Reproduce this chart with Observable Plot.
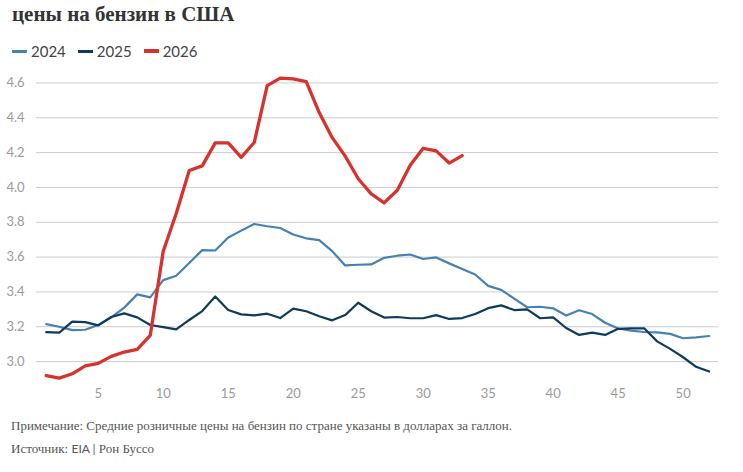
<!DOCTYPE html>
<html>
<head>
<meta charset="utf-8">
<script src="https://cdn.jsdelivr.net/npm/d3@7"></script>
<script src="https://cdn.jsdelivr.net/npm/@observablehq/plot@0.6"></script>
<style>
  html, body { margin: 0; padding: 0; background: #fff; }
  body { width: 743px; height: 472px; position: relative; overflow: hidden; }
  #title { position: absolute; left: 12px; top: 2px; font-family: "Liberation Serif", "DejaVu Serif", serif; font-weight: bold; font-size: 21px; color: #333; }
  #legend { position: absolute; left: 12px; top: 42px; font-family: Lato, "Open Sans", sans-serif; font-size: 15px; color: #444; display: flex; align-items: center; }
  .item { display: flex; align-items: center; margin-right: 12px; }
  .sw { display: inline-block; width: 15px; margin-right: 4px; }
  #chart { position: absolute; left: 0; top: 66px; }
  #note { position: absolute; left: 11px; top: 418px; font-family: "Liberation Serif", serif; font-size: 13px; color: #555; }
  #src { position: absolute; left: 11px; top: 441px; font-family: "Liberation Serif", serif; font-size: 13px; color: #555; }
  #src .s { font-family: Lato, sans-serif; font-size: 12px; }
</style>
</head>
<body>
<div id="title">цены на бензин в США</div>
<div id="legend"></div>
<div id="chart"></div>
<div id="note">Примечание: Средние розничные цены на бензин по стране указаны в долларах за галлон.</div>
<div id="src">Источник: <span class="s">EIA |</span> Рон Буссо</div>
<script>
const weeks = [1,2,3,4,5,6,7,8,9,10,11,12,13,14,15,16,17,18,19,20,21,22,23,24,25,26,27,28,29,30,31,32,33,34,35,36,37,38,39,40,41,42,43,44,45,46,47,48,49,50,51,52];
const series = ["2024", "2025", "2026"];
const colors = ["#4582b3", "#0e3a5e", "#d6322e"];
const gas2024 = [3.215,3.20,3.181,3.183,3.21,3.254,3.31,3.386,3.369,3.468,3.493,3.566,3.64,3.638,3.713,3.752,3.79,3.777,3.767,3.73,3.708,3.697,3.634,3.552,3.556,3.558,3.596,3.608,3.615,3.589,3.598,3.564,3.532,3.50,3.435,3.412,3.362,3.312,3.315,3.306,3.265,3.295,3.273,3.223,3.19,3.178,3.17,3.168,3.159,3.134,3.139,3.147];
const gas2025 = [3.169,3.166,3.23,3.227,3.208,3.256,3.277,3.254,3.21,3.198,3.185,3.239,3.29,3.374,3.296,3.271,3.265,3.275,3.25,3.304,3.289,3.26,3.237,3.267,3.338,3.289,3.253,3.256,3.249,3.249,3.267,3.245,3.25,3.273,3.307,3.323,3.296,3.30,3.249,3.254,3.193,3.153,3.166,3.153,3.188,3.191,3.191,3.116,3.073,3.025,2.97,2.943];
const gas2026 = [2.92,2.905,2.93,2.975,2.99,3.03,3.055,3.07,3.15,3.634,3.85,4.097,4.124,4.256,4.256,4.173,4.258,4.585,4.628,4.623,4.607,4.43,4.286,4.18,4.05,3.963,3.912,3.983,4.128,4.225,4.21,4.14,4.183];
const yTicks = [3.0,3.2,3.4,3.6,3.8,4.0,4.2,4.4,4.6];
const xTicks = [5,10,15,20,25,30,35,40,45,50];

const valuesBySeries = [gas2024, gas2025, gas2026];
const rows = series.map((s, i) => valuesBySeries[i].map((v, j) => ({week: weeks[j], price: v, year: s})));

// legend
const leg = document.getElementById("legend");
series.forEach((s, i) => {
  const it = document.createElement("span");
  it.className = "item";
  const sw = document.createElement("span");
  sw.className = "sw";
  sw.style.borderTop = (i === 2 ? 4 : 3) + "px solid " + colors[i];
  it.appendChild(sw);
  it.appendChild(document.createTextNode(s));
  leg.appendChild(it);
});

const chart = Plot.plot({
  width: 743,
  height: 338,
  marginLeft: 36,
  marginRight: 25,
  marginTop: 6,
  marginBottom: 22,
  style: {fontFamily: "Lato, 'Open Sans', sans-serif", fontSize: "13px", color: "#9a9a9a", background: "#fff"},
  x: {domain: [0.25, 52.72]},
  y: {domain: [2.88, 4.66]},
  marks: [
    Plot.gridY(yTicks, {stroke: "#cccccc", strokeOpacity: 1, strokeWidth: 1}),
    Plot.axisY(yTicks, {tickSize: 0, textAnchor: "start", dx: -21, tickFormat: d3.format(".1f"), label: null, fill: "#9a9a9a"}),
    Plot.axisX(xTicks, {tickSize: 0, tickPadding: 6, label: null, fill: "#9a9a9a"}),
    Plot.line(rows[0], {x: "week", y: "price", stroke: colors[0], strokeWidth: 2.2}),
    Plot.line(rows[1], {x: "week", y: "price", stroke: colors[1], strokeWidth: 2.2}),
    Plot.line(rows[2], {x: "week", y: "price", stroke: colors[2], strokeWidth: 3.3})
  ]
});
document.getElementById("chart").appendChild(chart);
</script>
</body>
</html>
